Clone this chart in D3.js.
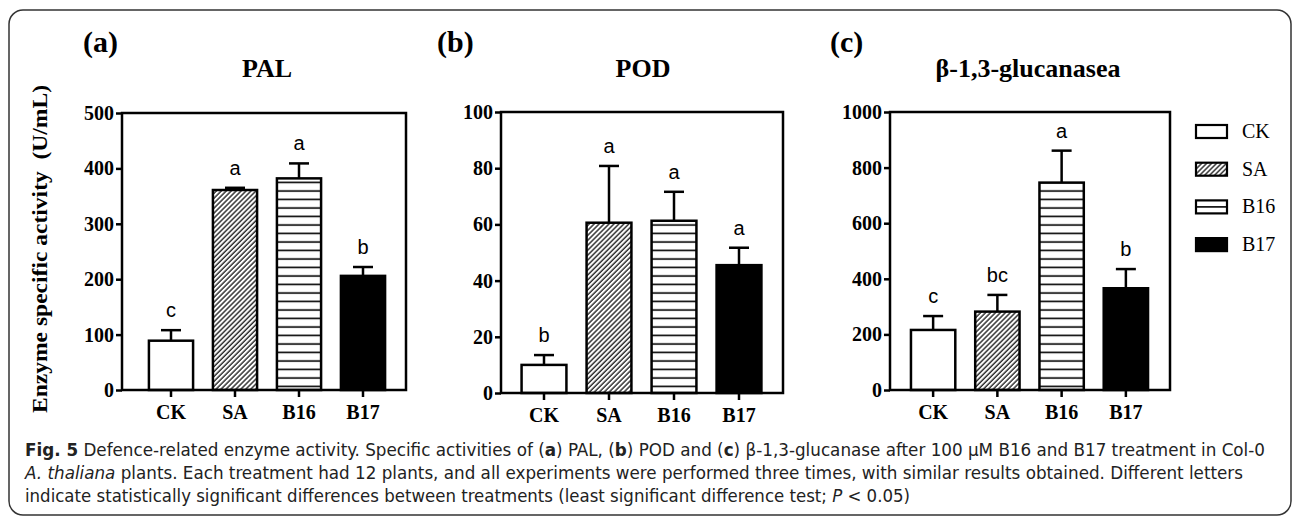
<!DOCTYPE html>
<html>
<head>
<meta charset="utf-8">
<script src="https://cdn.jsdelivr.net/npm/d3@7"></script>
<style>
  body { margin: 0; background: #fff; }
  svg { display: block; }
</style>
</head>
<body>
<script>
// treatments (same order in every panel)
var categories = ["CK", "SA", "B16", "B17"];

// (a) PAL
var palMean = [89, 361, 382, 206];
var palErr = [19, 4, 27, 16];
var palLetters = ["c", "a", "a", "b"];
var palTicks = [0, 100, 200, 300, 400, 500];

// (b) POD
var podMean = [10, 60.6, 61.3, 45.5];
var podErr = [3.5, 20.2, 10.3, 6.2];
var podLetters = ["b", "a", "a", "a"];
var podTicks = [0, 20, 40, 60, 80, 100];

// (c) beta-1,3-glucanase
var gluMean = [216, 282, 746, 366];
var gluErr = [50, 60, 115, 69];
var gluLetters = ["c", "bc", "a", "b"];
var gluTicks = [0, 200, 400, 600, 800, 1000];

var width = 1293, height = 519;
var serif = "'Liberation Serif', 'Times New Roman', serif";
var sans = "'Liberation Sans', Arial, sans-serif";
var fills = ["#fff", "url(#hatch)", "url(#hlines)", "#000"];

var svg = d3.select("body").append("svg")
    .attr("width", width)
    .attr("height", height);

var defs = svg.append("defs");
var hatch = defs.append("pattern") // diagonal /// lines for SA
    .attr("id", "hatch")
    .attr("patternUnits", "userSpaceOnUse")
    .attr("width", 3.5).attr("height", 3.5)
    .attr("patternTransform", "rotate(45)");
hatch.append("rect").attr("width", 3.5).attr("height", 3.5).attr("fill", "#fff");
hatch.append("line").attr("x1", 1).attr("x2", 1).attr("y1", 0).attr("y2", 3.5)
    .attr("stroke", "#000").attr("stroke-width", 1.2);

var hl = defs.append("pattern") // horizontal lines for B16
    .attr("id", "hlines")
    .attr("patternUnits", "userSpaceOnUse")
    .attr("width", 10).attr("height", 8.5);
hl.append("rect").attr("width", 10).attr("height", 8.5).attr("fill", "#fff");
hl.append("line").attr("x1", 0).attr("x2", 10).attr("y1", 4).attr("y2", 4)
    .attr("stroke", "#000").attr("stroke-width", 1.6);

// outer rounded frame
svg.append("rect")
    .attr("x", 9).attr("y", 10)
    .attr("width", 1282).attr("height", 505)
    .attr("rx", 14)
    .attr("fill", "none")
    .attr("stroke", "#333")
    .attr("stroke-width", 1.5);

var panels = [
  {tag: "(a)", title: "PAL", mean: palMean, err: palErr, letters: palLetters, ticks: palTicks,
   x0: 122, x1: 406, top: 113, bottom: 390, band: [139, 395], tagX: 83, titleX: 267},
  {tag: "(b)", title: "POD", mean: podMean, err: podErr, letters: podLetters, ticks: podTicks,
   x0: 501, x1: 783, top: 112, bottom: 393, band: [511.5, 771.5], tagX: 437, titleX: 643},
  {tag: "(c)", title: "β-1,3-glucanasea", mean: gluMean, err: gluErr, letters: gluLetters, ticks: gluTicks,
   x0: 890, x1: 1170, top: 112, bottom: 390, band: [901, 1158], tagX: 830, titleX: 1028}
];

panels.forEach(function(p) {
  var g = svg.append("g");

  var x = d3.scaleBand()
      .domain(categories)
      .range(p.band)
      .paddingInner(0.31)
      .paddingOuter(0.155);

  var y = d3.scaleLinear()
      .domain([0, d3.max(p.ticks)])
      .range([p.bottom, p.top]);

  var rows = categories.map(function(c, i) {
    return {cat: c, mean: p.mean[i], err: p.err[i], letter: p.letters[i], fill: fills[i]};
  });

  // bars
  g.selectAll(".bar").data(rows).enter().append("rect")
      .attr("x", function(d) { return x(d.cat); })
      .attr("y", function(d) { return y(d.mean); })
      .attr("width", x.bandwidth())
      .attr("height", function(d) { return y(0) - y(d.mean); })
      .attr("fill", function(d) { return d.fill; })
      .attr("stroke", "#000")
      .attr("stroke-width", 2.5);

  // error bars (upper only)
  var cx = function(d) { return x(d.cat) + x.bandwidth() / 2; };
  g.selectAll(".err").data(rows).enter().append("line")
      .attr("x1", cx).attr("x2", cx)
      .attr("y1", function(d) { return y(d.mean); })
      .attr("y2", function(d) { return y(d.mean + d.err); })
      .attr("stroke", "#000").attr("stroke-width", 2.5);
  g.selectAll(".cap").data(rows).enter().append("line")
      .attr("x1", function(d) { return cx(d) - 10; })
      .attr("x2", function(d) { return cx(d) + 10; })
      .attr("y1", function(d) { return y(d.mean + d.err); })
      .attr("y2", function(d) { return y(d.mean + d.err); })
      .attr("stroke", "#000").attr("stroke-width", 2.5);

  // significance letters
  g.selectAll(".sig").data(rows).enter().append("text")
      .attr("x", cx)
      .attr("y", function(d) { return y(d.mean + d.err) - 13; })
      .attr("text-anchor", "middle")
      .style("font-family", sans)
      .style("font-size", "20px")
      .text(function(d) { return d.letter; });

  // frame
  g.append("rect")
      .attr("x", p.x0).attr("y", p.top)
      .attr("width", p.x1 - p.x0).attr("height", p.bottom - p.top)
      .attr("fill", "none").attr("stroke", "#000").attr("stroke-width", 2.5);

  var yAxis = g.append("g")
      .attr("transform", `translate(${p.x0},0)`)
      .call(d3.axisLeft(y).tickValues(p.ticks).tickFormat(d3.format("d")).tickSize(6).tickPadding(2));
  var xAxis = g.append("g")
      .attr("transform", `translate(0,${p.bottom})`)
      .call(d3.axisBottom(x).tickSize(7).tickPadding(8));

  [yAxis, xAxis].forEach(function(a) {
    a.select(".domain").remove();
    a.selectAll("line").attr("stroke", "#000").attr("stroke-width", 2.5);
    a.selectAll("text")
        .attr("fill", "#000")
        .style("font-family", serif)
        .style("font-weight", "bold")
        .style("font-size", "20px");
  });

  g.append("text")
      .attr("x", p.tagX).attr("y", 52)
      .style("font-family", serif).style("font-weight", "bold").style("font-size", "30px")
      .text(p.tag);

  g.append("text")
      .attr("x", p.titleX).attr("y", 77)
      .attr("text-anchor", "middle")
      .style("font-family", serif).style("font-weight", "bold").style("font-size", "26px")
      .text(p.title);
});

// y label
svg.append("text")
    .attr("transform", "translate(47,249) rotate(-90)")
    .attr("text-anchor", "middle")
    .attr("textLength", 328)
    .attr("lengthAdjust", "spacingAndGlyphs")
    .attr("xml:space", "preserve")
    .style("white-space", "pre")
    .style("font-family", serif).style("font-weight", "bold").style("font-size", "20px")
    .text("Enzyme specific activity  (U/mL)");

// legend
var legend = svg.append("g").selectAll("g")
    .data(categories)
    .enter().append("g")
    .attr("transform", function(d, i) { return `translate(1196,${125 + i * 37.7})`; });
legend.append("rect")
    .attr("width", 31).attr("height", 13)
    .attr("fill", function(d, i) { return i === 2 ? "#fff" : fills[i]; })
    .attr("stroke", "#000").attr("stroke-width", 2.2);
legend.filter(function(d, i) { return i === 2; }).append("line")
    .attr("x1", 0).attr("x2", 31).attr("y1", 6.5).attr("y2", 6.5)
    .attr("stroke", "#000").attr("stroke-width", 1.6);
legend.append("text")
    .attr("x", 46).attr("y", 13)
    .style("font-family", serif).style("font-size", "20px")
    .text(function(d) { return d; });

// caption
var capFont = "'Liberation Sans Narrow', 'DejaVu Sans Condensed', 'Liberation Sans', sans-serif";
var caption = [
  {y: 456, len: 1240, parts: [["Fig. 5", "b"], [" Defence-related enzyme activity. Specific activities of (", ""], ["a", "b"], [") PAL, (", ""], ["b", "b"], [") POD and (", ""], ["c", "b"], [") β-1,3-glucanase after 100 μM B16 and B17 treatment in Col-0", ""]]},
  {y: 479, len: 1218, parts: [["A. thaliana", "i"], [" plants. Each treatment had 12 plants, and all experiments were performed three times, with similar results obtained. Different letters", ""]]},
  {y: 502, len: 885, parts: [["indicate statistically significant differences between treatments (least significant difference test; ", ""], ["P", "i"], [" < 0.05)", ""]]}
];
caption.forEach(function(line) {
  var t = svg.append("text")
      .attr("x", 25).attr("y", line.y)
      .attr("textLength", line.len)
      .attr("lengthAdjust", "spacingAndGlyphs")
      .style("font-family", capFont).style("font-size", "17px").attr("fill", "#222");
  line.parts.forEach(function(pt) {
    t.append("tspan")
        .style("font-weight", pt[1] === "b" ? "bold" : "normal")
        .style("font-style", pt[1] === "i" ? "italic" : "normal")
        .text(pt[0]);
  });
});
</script>
</body>
</html>
